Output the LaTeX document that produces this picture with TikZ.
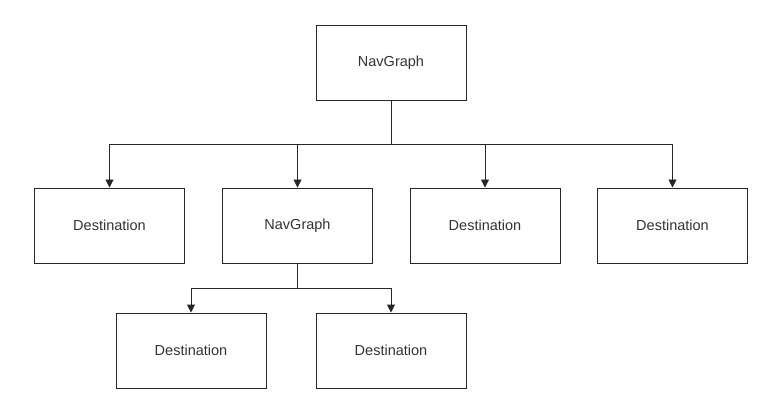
\documentclass[tikz,border=0pt]{standalone}
\usepackage{fontspec}
\setmainfont{Liberation Sans}
\usetikzlibrary{arrows.meta}
\definecolor{txt}{HTML}{333333}
\begin{document}
\begin{tikzpicture}[x=1pt,y=-1pt,
  box/.style={draw=black!85, line width=0.95pt, minimum width=150pt, minimum height=75pt, inner sep=0pt, fill=white, font=\fontsize{14.5}{16}\selectfont, text=txt},
  conn/.style={draw=black!85, line width=0.95pt},
  arr/.style={conn, -{Triangle[width=8pt,length=8pt]}}]
\useasboundingbox[fill=white] (0,0) rectangle (776,406);
\node[box] (top) at (391,63) {NavGraph};
\node[box] (d1) at (109.5,225.5) {Destination};
\node[box] (n2) at (297.5,225.5) {NavGraph};
\node[box] (d3) at (485,225.5) {Destination};
\node[box] (d4) at (672.5,225.5) {Destination};
\node[box] (d5) at (191,350.5) {Destination};
\node[box] (d6) at (391,350.5) {Destination};
\coordinate (j1) at (391,144);
\coordinate (j2) at (297.5,288);
\draw[conn] (top.south) -- (j1);
\draw[arr] (j1) -| (d1.north);
\draw[arr] (j1) -| (n2.north);
\draw[arr] (j1) -| (d3.north);
\draw[arr] (j1) -| (d4.north);
\draw[conn] (n2.south) -- (j2);
\draw[arr] (j2) -| (d5.north);
\draw[arr] (j2) -| (d6.north);
\end{tikzpicture}
\end{document}
